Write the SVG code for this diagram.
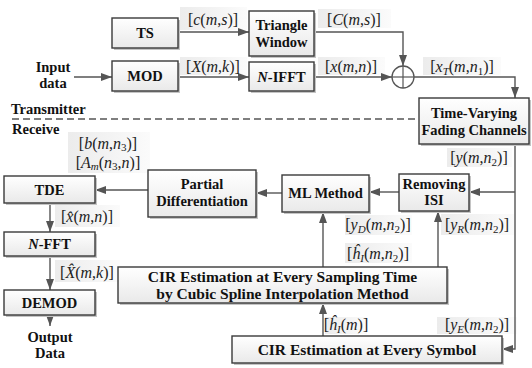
<svg xmlns="http://www.w3.org/2000/svg" width="532" height="368" viewBox="0 0 532 368">
<defs>
<linearGradient id="bg" x1="0" y1="0" x2="0" y2="1"><stop offset="0" stop-color="#ffffff"/><stop offset="1" stop-color="#e9e9e9"/></linearGradient>
<linearGradient id="lg" x1="0" y1="0" x2="1" y2="0"><stop offset="0" stop-color="#ececec"/><stop offset="0.5" stop-color="#f3f3f3"/><stop offset="1" stop-color="#fbfbfb"/></linearGradient>
<marker id="ah" markerUnits="userSpaceOnUse" markerWidth="11" markerHeight="8" refX="11" refY="4" orient="auto"><path d="M0,0 L11,4 L0,8 z" fill="#555"/></marker>
</defs>
<style>
.box{fill:url(#bg);stroke:#3a3a3a;stroke-width:1.4}
.sh{fill:#c4c4c4}
.t{font-family:"Liberation Serif",serif;font-weight:bold;font-size:14.5px;text-anchor:middle;fill:#111}
.big{font-size:15.5px}
.m{font-family:"Liberation Serif",serif;font-size:16px;text-anchor:middle;fill:#222}
.i{font-style:italic}
.s{font-size:11px}
.lb{fill:url(#lg)}
.c{stroke:#555;stroke-width:1.4;fill:none}
.a{marker-end:url(#ah)}
</style>
<g id="labels-bg">
<rect class="lb" x="180" y="7" width="67" height="23"/>
<rect class="lb" x="180" y="57" width="67" height="18"/>
<rect class="lb" x="318" y="9" width="73" height="19"/>
<rect class="lb" x="318" y="57" width="67" height="18"/>
<rect class="lb" x="423" y="57" width="78" height="18"/>
<rect class="lb" x="447" y="148" width="65" height="19"/>
<rect class="lb" x="345" y="215" width="67" height="20"/>
<rect class="lb" x="441" y="214" width="73" height="21"/>
<rect class="lb" x="345" y="243" width="67" height="20"/>
<rect class="lb" x="325" y="317" width="42" height="17"/>
<rect class="lb" x="437" y="317" width="80" height="17"/>
<rect class="lb" x="68" y="132" width="82" height="41"/>
<rect class="lb" x="55" y="205" width="65" height="22"/>
<rect class="lb" x="55" y="260" width="65" height="22"/>
</g>
<g id="connectors">
<line class="c a" x1="74" y1="77" x2="112" y2="77"/>
<line class="c a" x1="178" y1="32" x2="249" y2="32"/>
<line class="c a" x1="178" y1="77" x2="249" y2="77"/>
<polyline class="c a" points="314,32 403,32 403,66"/>
<line class="c a" x1="314" y1="77" x2="392" y2="77"/>
<polyline class="c a" points="414,77 515,77 515,98"/>
<polyline class="c a" points="515,144 515,349 502,349"/>
<line class="c a" x1="515" y1="192" x2="469" y2="192"/>
<line class="c a" x1="399" y1="192" x2="369" y2="192"/>
<line class="c a" x1="282" y1="193" x2="256" y2="193"/>
<line class="c a" x1="148" y1="190" x2="95" y2="190"/>
<line class="c a" x1="50" y1="203" x2="50" y2="232"/>
<line class="c a" x1="50" y1="256" x2="50" y2="290"/>
<line class="c a" x1="50" y1="315" x2="50" y2="326"/>
<line class="c a" x1="323" y1="336" x2="323" y2="303"/>
<line class="c a" x1="323" y1="267" x2="323" y2="212"/>
<line class="c a" x1="438" y1="267" x2="438" y2="211"/>
<line x1="12" y1="119" x2="419" y2="119" stroke="#555" stroke-width="1.4" stroke-dasharray="7,4"/>
</g>
<g id="TS"><rect class="sh" x="114" y="20" width="66" height="30"/><rect class="box" x="112" y="18" width="66" height="30"/><text class="t" x="145" y="38">TS</text></g>
<g id="TriangleWindow"><rect class="sh" x="251" y="13" width="65" height="45"/><rect class="box" x="249" y="11" width="65" height="45"/><text class="t" x="281.5" y="30">Triangle</text><text class="t" x="281.5" y="47">Window</text></g>
<g id="MOD"><rect class="sh" x="114" y="63" width="66" height="30"/><rect class="box" x="112" y="61" width="66" height="30"/><text class="t" x="145" y="81">MOD</text></g>
<g id="NIFFT"><rect class="sh" x="251" y="64" width="65" height="29"/><rect class="box" x="249" y="62" width="65" height="29"/><text class="t" x="281.5" y="82"><tspan class="i">N</tspan>-IFFT</text></g>
<g id="Sum"><circle cx="403" cy="77" r="11" fill="#fff" stroke="#555" stroke-width="1.3"/><line x1="392" y1="77" x2="414" y2="77" stroke="#555" stroke-width="1.2"/><line x1="403" y1="66" x2="403" y2="88" stroke="#555" stroke-width="1.2"/></g>
<g id="TimeVarying"><rect class="sh" x="421" y="100" width="110" height="46"/><rect class="box" x="419" y="98" width="110" height="46"/><text class="t" x="474" y="118">Time-Varying</text><text class="t" x="474" y="135">Fading Channels</text></g>
<g id="RemovingISI"><rect class="sh" x="401" y="176" width="70" height="37"/><rect class="box" x="399" y="174" width="70" height="37"/><text class="t" x="434" y="189">Removing</text><text class="t" x="434" y="205">ISI</text></g>
<g id="MLMethod"><rect class="sh" x="284" y="177" width="87" height="37"/><rect class="box" x="282" y="175" width="87" height="37"/><text class="t" x="325.5" y="198">ML Method</text></g>
<g id="Partial"><rect class="sh" x="150" y="172" width="108" height="47"/><rect class="box" x="148" y="170" width="108" height="47"/><text class="t" x="202" y="189">Partial</text><text class="t" x="202" y="206">Differentiation</text></g>
<g id="TDE"><rect class="sh" x="6" y="178" width="91" height="27"/><rect class="box" x="4" y="176" width="91" height="27"/><text class="t" x="49.5" y="195">TDE</text></g>
<g id="NFFT"><rect class="sh" x="6" y="234" width="91" height="24"/><rect class="box" x="4" y="232" width="91" height="24"/><text class="t" x="49.5" y="249"><tspan class="i">N</tspan>-FFT</text></g>
<g id="DEMOD"><rect class="sh" x="6" y="292" width="91" height="25"/><rect class="box" x="4" y="290" width="91" height="25"/><text class="t" x="49.5" y="308">DEMOD</text></g>
<g id="CIRSampling"><rect class="sh" x="120" y="269" width="329" height="36"/><rect class="box" x="118" y="267" width="329" height="36"/><text class="t big" x="282.5" y="281.5">CIR Estimation at Every Sampling Time</text><text class="t big" x="282.5" y="299">by Cubic Spline Interpolation Method</text></g>
<g id="CIRSymbol"><rect class="sh" x="234" y="338" width="270" height="27"/><rect class="box" x="232" y="336" width="270" height="27"/><text class="t big" x="367" y="355">CIR Estimation at Every Symbol</text></g>
<g id="texts">
<text class="t" x="53" y="72">Input</text>
<text class="t" x="53" y="88">data</text>
<text class="t" x="50" y="342">Output</text>
<text class="t" x="50" y="358">Data</text>
<text class="t" x="11" y="114" style="text-anchor:start">Transmitter</text>
<text class="t" x="12" y="134" style="text-anchor:start">Receive</text>
<text class="m" x="213" y="25">[<tspan class="i">c</tspan>(<tspan class="i">m</tspan>,<tspan class="i">s</tspan>)]</text>
<text class="m" x="213" y="72">[<tspan class="i">X</tspan>(<tspan class="i">m</tspan>,<tspan class="i">k</tspan>)]</text>
<text class="m" x="354" y="25">[<tspan class="i">C</tspan>(<tspan class="i">m</tspan>,<tspan class="i">s</tspan>)]</text>
<text class="m" x="351" y="72">[<tspan class="i">x</tspan>(<tspan class="i">m</tspan>,<tspan class="i">n</tspan>)]</text>
<text class="m" x="462" y="72">[<tspan class="i">x</tspan><tspan class="i s" dy="3">T</tspan><tspan dy="-3">(</tspan><tspan class="i">m</tspan>,<tspan class="i">n</tspan><tspan class="s" dy="3">1</tspan><tspan dy="-3">)]</tspan></text>
<text class="m" x="479" y="163">[<tspan class="i">y</tspan>(<tspan class="i">m</tspan>,<tspan class="i">n</tspan><tspan class="s" dy="3">2</tspan><tspan dy="-3">)]</tspan></text>
<text class="m" x="378" y="230">[<tspan class="i">y</tspan><tspan class="i s" dy="3">D</tspan><tspan dy="-3">(</tspan><tspan class="i">m</tspan>,<tspan class="i">n</tspan><tspan class="s" dy="3">2</tspan><tspan dy="-3">)]</tspan></text>
<text class="m" x="477" y="230">[<tspan class="i">y</tspan><tspan class="i s" dy="3">R</tspan><tspan dy="-3">(</tspan><tspan class="i">m</tspan>,<tspan class="i">n</tspan><tspan class="s" dy="3">2</tspan><tspan dy="-3">)]</tspan></text>
<text class="m" x="378" y="259">[<tspan class="i">ĥ</tspan><tspan class="i s" dy="3">I</tspan><tspan dy="-3">(</tspan><tspan class="i">m</tspan>,<tspan class="i">n</tspan><tspan class="s" dy="3">2</tspan><tspan dy="-3">)]</tspan></text>
<text class="m" x="346" y="330">[<tspan class="i">ĥ</tspan><tspan class="i s" dy="3">I</tspan><tspan dy="-3">(</tspan><tspan class="i">m</tspan>)]</text>
<text class="m" x="477" y="330">[<tspan class="i">y</tspan><tspan class="i s" dy="3">E</tspan><tspan dy="-3">(</tspan><tspan class="i">m</tspan>,<tspan class="i">n</tspan><tspan class="s" dy="3">2</tspan><tspan dy="-3">)]</tspan></text>
<text class="m" x="108" y="149">[<tspan class="i">b</tspan>(<tspan class="i">m</tspan>,<tspan class="i">n</tspan><tspan class="s" dy="2">3</tspan><tspan dy="-2">)]</tspan></text>
<text class="m" x="108" y="168">[<tspan class="i">A</tspan><tspan class="i s" dy="2">m</tspan><tspan dy="-2">(</tspan><tspan class="i">n</tspan><tspan class="s" dy="2">3</tspan><tspan dy="-2">,</tspan><tspan class="i">n</tspan>)]</text>
<text class="m" x="87" y="222">[<tspan class="i">x̂</tspan>(<tspan class="i">m</tspan>,<tspan class="i">n</tspan>)]</text>
<text class="m" x="87" y="278">[<tspan class="i">X̂</tspan>(<tspan class="i">m</tspan>,<tspan class="i">k</tspan>)]</text>
</g>
</svg>
